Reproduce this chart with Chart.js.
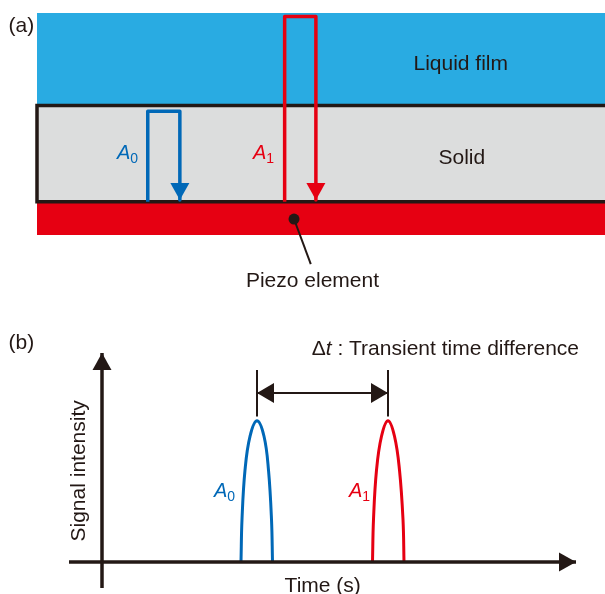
<!DOCTYPE html>
<html>
<head>
<meta charset="utf-8">
<script src="https://cdn.jsdelivr.net/npm/chart.js@4.4.1/dist/chart.umd.min.js"></script>
<style>
html, body { margin: 0; padding: 0; background: #fff; }
#wrap { position: relative; width: 605px; height: 594px; overflow: hidden; }
canvas { position: absolute; left: 0; }
#chartA { top: 0; }
#chartB { top: 300px; }
</style>
</head>
<body>
<div id="wrap">
  <canvas id="chartA" width="605" height="300" style="width:605px;height:300px"></canvas>
  <canvas id="chartB" width="605" height="294" style="width:605px;height:294px"></canvas>
</div>
<script>
/* (a) layers: position across (0-100), depth from bottom of piezo (0-10) */
const layerNames = ['Piezo element', 'Solid', 'Liquid film'];
const layerBottom = [0, 1.5, 5.83];
const layerTop = [1.45, 5.83, 10];

/* wave paths in (a) */
const pathA0x = [19.5, 19.5, 25.15, 25.15];
const pathA0y = [1.5, 5.57, 5.57, 1.58];
const pathA1x = [43.6, 43.6, 49.1, 49.1];
const pathA1y = [1.5, 9.84, 9.84, 1.58];

/* piezo pointer */
const pointerX = [45.25, 48.2];
const pointerY = [0.72, -1.31];

/* (b) signal vs time */
const timeAxis = [-3.3, 47.4];
const signalAxis = [-0.185, 1.48];
const timeA0 = [13.9, 14.0, 14.3, 14.8, 15.5, 16.2, 16.65, 16.95, 17.05];
const signalA0 = [0, 0.3, 0.65, 0.89, 1.0, 0.89, 0.65, 0.3, 0];
const timeA1 = [27.05, 27.15, 27.45, 27.95, 28.6, 29.25, 29.75, 30.1, 30.2];
const signalA1 = [0, 0.3, 0.65, 0.89, 1.0, 0.89, 0.65, 0.3, 0];
const peakTimes = [15.5, 28.6];
const deltaLevel = 1.196;
const tickSpan = [1.03, 1.36];

const FONT = '"Liberation Sans", Arial, sans-serif';
const INK = '#231815';
const BLUE = '#0068B7';
const RED = '#E60012';
const layerColors = ['#E60012', '#DCDDDD', '#29ABE2'];

const pts = (xs, ys) => xs.map((v, i) => ({ x: v, y: ys[i] }));

const arrowHeads = {
  id: 'arrowHeads',
  afterDatasetsDraw(chart) {
    const ctx = chart.ctx;
    chart.data.datasets.forEach((ds, i) => {
      if (!ds.heads) return;
      const el = chart.getDatasetMeta(i).data;
      ds.heads.forEach(end => {
        const tip = end === 'end' ? el[el.length - 1] : el[0];
        const prev = end === 'end' ? el[el.length - 2] : el[1];
        const ang = Math.atan2(tip.y - prev.y, tip.x - prev.x);
        ctx.save();
        ctx.translate(tip.x, tip.y);
        ctx.rotate(ang);
        ctx.beginPath();
        ctx.moveTo(0, 0);
        ctx.lineTo(-ds.headLength, -ds.headWidth / 2);
        ctx.lineTo(-ds.headLength, ds.headWidth / 2);
        ctx.closePath();
        ctx.fillStyle = ds.borderColor;
        ctx.fill();
        ctx.restore();
      });
    });
  }
};

function text(ctx, str, px, py, font, color, align, base) {
  ctx.save();
  ctx.font = font;
  ctx.fillStyle = color;
  ctx.textAlign = align || 'center';
  ctx.textBaseline = base || 'middle';
  ctx.fillText(str, px, py);
  ctx.restore();
}

function waveLabel(ctx, sub, px, py, color) {
  ctx.save();
  ctx.fillStyle = color;
  ctx.textAlign = 'left';
  ctx.textBaseline = 'alphabetic';
  ctx.font = 'italic 20px ' + FONT;
  ctx.fillText('A', px, py);
  const w = ctx.measureText('A').width;
  ctx.font = '14px ' + FONT;
  ctx.fillText(sub, px + w, py + 4);
  ctx.restore();
}

const layersPlugin = {
  id: 'layers',
  beforeDatasetsDraw(chart) {
    const { ctx, scales: { x, y } } = chart;
    const w = chart.width - x.left;
    for (let i = layerNames.length - 1; i >= 0; i--) {
      const t = y.getPixelForValue(layerTop[i]);
      const b = y.getPixelForValue(layerBottom[i]);
      ctx.fillStyle = layerColors[i];
      ctx.fillRect(x.left, t, w, b - t);
    }
    const t = y.getPixelForValue(layerTop[1]);
    const b = y.getPixelForValue(layerBottom[1]);
    ctx.save();
    ctx.strokeStyle = INK;
    ctx.lineWidth = 3.5;
    ctx.beginPath();
    ctx.moveTo(chart.width + 5, t);
    ctx.lineTo(x.left, t);
    ctx.lineTo(x.left, b);
    ctx.lineTo(chart.width + 5, b);
    ctx.stroke();
    ctx.restore();
  },
  afterDraw(chart) {
    const { ctx, scales: { x, y } } = chart;
    const f = '21px ' + FONT;
    text(ctx, '(a)', x.getPixelForValue(-5.0), y.getPixelForValue(9.4), f, INK, 'left');
    text(ctx, layerNames[2], x.getPixelForValue(74.6), y.getPixelForValue(7.7), f, INK);
    text(ctx, layerNames[1], x.getPixelForValue(74.8), y.getPixelForValue(3.44), f, INK);
    text(ctx, layerNames[0], x.getPixelForValue(48.5), y.getPixelForValue(-2.1), f, INK);
    waveLabel(ctx, '0', x.getPixelForValue(14.08), y.getPixelForValue(3.42), BLUE);
    waveLabel(ctx, '1', x.getPixelForValue(38.03), y.getPixelForValue(3.42), RED);
  }
};

const lineDefaults = { pointRadius: 0, fill: false, clip: false, borderJoinStyle: 'round' };

new Chart(document.getElementById('chartA'), {
  type: 'line',
  data: {
    datasets: [
      Object.assign({}, lineDefaults, {
        data: pts(pathA0x, pathA0y), borderColor: BLUE, borderWidth: 3.5,
        heads: ['end'], headLength: 17, headWidth: 19
      }),
      Object.assign({}, lineDefaults, {
        data: pts(pathA1x, pathA1y), borderColor: RED, borderWidth: 3.5,
        heads: ['end'], headLength: 17, headWidth: 19
      }),
      Object.assign({}, lineDefaults, {
        data: pts(pointerX, pointerY), borderColor: INK, borderWidth: 2,
        pointRadius: [5.5, 0], pointBackgroundColor: INK, pointBorderWidth: 0
      })
    ]
  },
  options: {
    responsive: false,
    animation: false,
    devicePixelRatio: 1,
    layout: { autoPadding: false, padding: { left: 37, right: 0, top: 13, bottom: 65 } },
    plugins: { legend: { display: false }, tooltip: { enabled: false } },
    scales: {
      x: { type: 'linear', min: 0, max: 100, display: false },
      y: { type: 'linear', min: 0, max: 10, display: false }
    }
  },
  plugins: [layersPlugin, arrowHeads]
});

const labelsB = {
  id: 'labelsB',
  afterDraw(chart) {
    const { ctx, scales: { x, y } } = chart;
    const f = '21px ' + FONT;
    text(ctx, '(b)', x.getPixelForValue(-9.35), y.getPixelForValue(1.546), f, INK, 'left');
    // Δt : Transient time difference
    ctx.save();
    ctx.fillStyle = INK;
    ctx.textBaseline = 'middle';
    ctx.textAlign = 'left';
    let px = x.getPixelForValue(20.97);
    const py = y.getPixelForValue(1.51);
    ctx.font = f;
    ctx.fillText('\u0394', px, py);
    px += ctx.measureText('\u0394').width;
    ctx.font = 'italic ' + f;
    ctx.fillText('t', px, py);
    px += ctx.measureText('t').width;
    ctx.font = f;
    ctx.fillText(' : Transient time difference', px, py);
    ctx.restore();
    // axis titles
    ctx.save();
    ctx.translate(x.getPixelForValue(-2.3), y.getPixelForValue(0.645));
    ctx.rotate(-Math.PI / 2);
    text(ctx, 'Signal intensity', 0, 0, f, INK);
    ctx.restore();
    text(ctx, 'Time (s)', x.getPixelForValue(22.07), y.getPixelForValue(-0.213), f, INK, 'center', 'alphabetic');
    waveLabel(ctx, '0', x.getPixelForValue(11.2), y.getPixelForValue(0.46), BLUE);
    waveLabel(ctx, '1', x.getPixelForValue(24.7), y.getPixelForValue(0.46), RED);
  }
};

new Chart(document.getElementById('chartB'), {
  type: 'line',
  data: {
    datasets: [
      Object.assign({}, lineDefaults, {
        data: pts(timeAxis, [0, 0]), borderColor: INK, borderWidth: 3.5,
        heads: ['end'], headLength: 17, headWidth: 19
      }),
      Object.assign({}, lineDefaults, {
        data: pts([0, 0], signalAxis), borderColor: INK, borderWidth: 3.5,
        heads: ['end'], headLength: 17, headWidth: 19
      }),
      Object.assign({}, lineDefaults, {
        data: pts(timeA0, signalA0), borderColor: BLUE, borderWidth: 3, tension: 0.4
      }),
      Object.assign({}, lineDefaults, {
        data: pts(timeA1, signalA1), borderColor: RED, borderWidth: 3, tension: 0.4
      }),
      Object.assign({}, lineDefaults, {
        data: pts([peakTimes[0], peakTimes[0]], tickSpan), borderColor: INK, borderWidth: 2
      }),
      Object.assign({}, lineDefaults, {
        data: pts([peakTimes[1], peakTimes[1]], tickSpan), borderColor: INK, borderWidth: 2
      }),
      Object.assign({}, lineDefaults, {
        data: pts(peakTimes, [deltaLevel, deltaLevel]), borderColor: INK, borderWidth: 2,
        heads: ['start', 'end'], headLength: 17, headWidth: 20
      })
    ]
  },
  options: {
    responsive: false,
    animation: false,
    devicePixelRatio: 1,
    layout: { autoPadding: false, padding: { left: 69, right: 29, top: 53, bottom: 6 } },
    plugins: { legend: { display: false }, tooltip: { enabled: false } },
    scales: {
      x: { type: 'linear', min: timeAxis[0], max: timeAxis[1], display: false },
      y: { type: 'linear', min: signalAxis[0], max: signalAxis[1], display: false }
    }
  },
  plugins: [arrowHeads, labelsB]
});
</script>
</body>
</html>
